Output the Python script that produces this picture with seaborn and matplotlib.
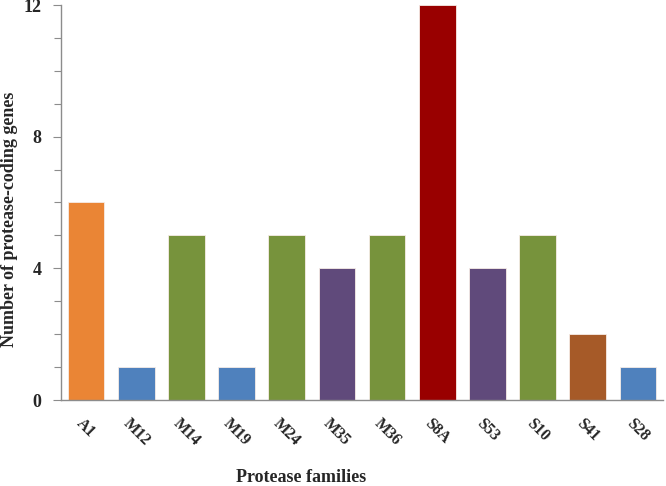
import matplotlib
matplotlib.use("Agg")
import matplotlib.pyplot as plt
import seaborn as sns
import pandas as pd
from matplotlib.ticker import MultipleLocator

families = ["A1", "M12", "M14", "M19", "M24", "M35", "M36", "S8A", "S53", "S10", "S41", "S28"]
counts = [6, 1, 5, 1, 5, 4, 5, 12, 4, 5, 2, 1]
colors = ["#EA8535", "#4F81BD", "#77933C", "#4F81BD", "#77933C", "#604A7B",
          "#77933C", "#990000", "#604A7B", "#77933C", "#A65A28", "#4F81BD"]

sns.set_style("white")
plt.rcParams['font.family'] = ['Liberation Serif', 'DejaVu Serif']

df = pd.DataFrame({"family": families, "count": counts})
fig = plt.figure(figsize=(6.66, 4.86), dpi=100)
ax = fig.add_axes([61/666, 1-400/486, 602/666, 395/486])
sns.barplot(data=df, x="family", y="count", hue="family", palette=colors,
            saturation=1, legend=False, width=0.73, ax=ax,
            edgecolor="#f6ece6", linewidth=0.6)

ax.set_ylim(0, 12)
ax.set_xlim(-0.5, 11.5)
ax.yaxis.set_major_locator(MultipleLocator(4))
ax.yaxis.set_minor_locator(MultipleLocator(1))
ax.tick_params(axis='y', which='both', direction='out', left=True, color='#8c8c8c',
               width=0.8, labelsize=13)
ax.tick_params(axis='y', which='major', length=6, pad=8)
ax.tick_params(axis='y', which='minor', length=5)
ax.tick_params(axis='x', bottom=False, labelsize=11.5, pad=8)
for lbl in ax.get_yticklabels():
    lbl.set_fontweight('bold')
for lbl in ax.get_xticklabels():
    lbl.set_rotation(-45)
    lbl.set_ha('center')
    lbl.set_va('top')
    lbl.set_fontweight('bold')

for s in ['top', 'right']:
    ax.spines[s].set_visible(False)
for s in ['left', 'bottom']:
    ax.spines[s].set_color('#8c8c8c')
    ax.spines[s].set_linewidth(1.0)

ax.set_ylabel("")
ax.set_xlabel("")
fig.text(10/666, 1-219/486, "Number of protease-coding genes", ha='center', va='center',
         rotation=90, fontsize=13, fontweight='bold')
fig.text(301/666, 1-477/486, "Protease families", ha='center', va='center',
         fontsize=13, fontweight='bold')

fig.savefig("out.png", dpi=100)
